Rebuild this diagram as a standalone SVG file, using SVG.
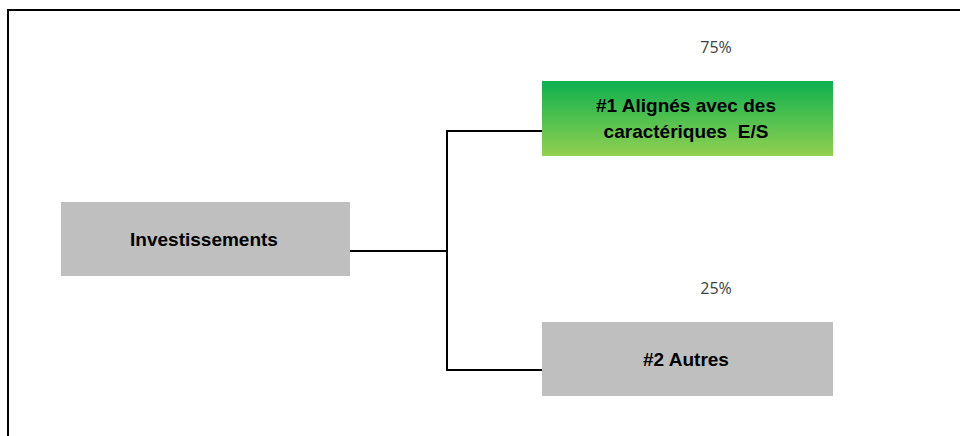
<svg xmlns="http://www.w3.org/2000/svg" width="960" height="436" viewBox="0 0 960 436">
<defs>
<linearGradient id="g1" x1="0" y1="0" x2="0" y2="1">
<stop offset="0" stop-color="#0db04f"/>
<stop offset="1" stop-color="#92d050"/>
</linearGradient>
<style>
.lbl{font-family:"Liberation Sans",Arial,sans-serif;font-weight:bold;font-size:19px;fill:#000;text-anchor:middle}
.pct{font-family:"Open Sans","DejaVu Sans",sans-serif;font-size:16px;fill:#404040;text-anchor:middle}
.ln{stroke:#000;stroke-width:2;fill:none}
.grey{fill:#bfbfbf}
</style>
</defs>
<rect width="960" height="436" fill="#fff"/>
<path class="ln" d="M8 436 V10 H960"/>
<g id="connectors">
<path class="ln" d="M350 251 H447"/>
<path class="ln" d="M447 131 V370"/>
<path class="ln" d="M446 131 H543"/>
<path class="ln" d="M446 370 H543"/>
</g>
<g id="investissements">
<rect class="grey" x="61" y="202" width="289" height="74"/>
<text class="lbl" x="204" y="246">Investissements</text>
</g>
<g id="alignes">
<rect x="542" y="81" width="291" height="75" fill="url(#g1)"/>
<text class="lbl" x="686" y="112">#1 Alignés avec des</text>
<text class="lbl" x="686" y="138" xml:space="preserve">caractériques  E/S</text>
<text class="pct" x="716" y="53">75%</text>
</g>
<g id="autres">
<rect class="grey" x="542" y="322" width="291" height="74"/>
<text class="lbl" x="686" y="366">#2 Autres</text>
<text class="pct" x="716" y="294">25%</text>
</g>
</svg>
